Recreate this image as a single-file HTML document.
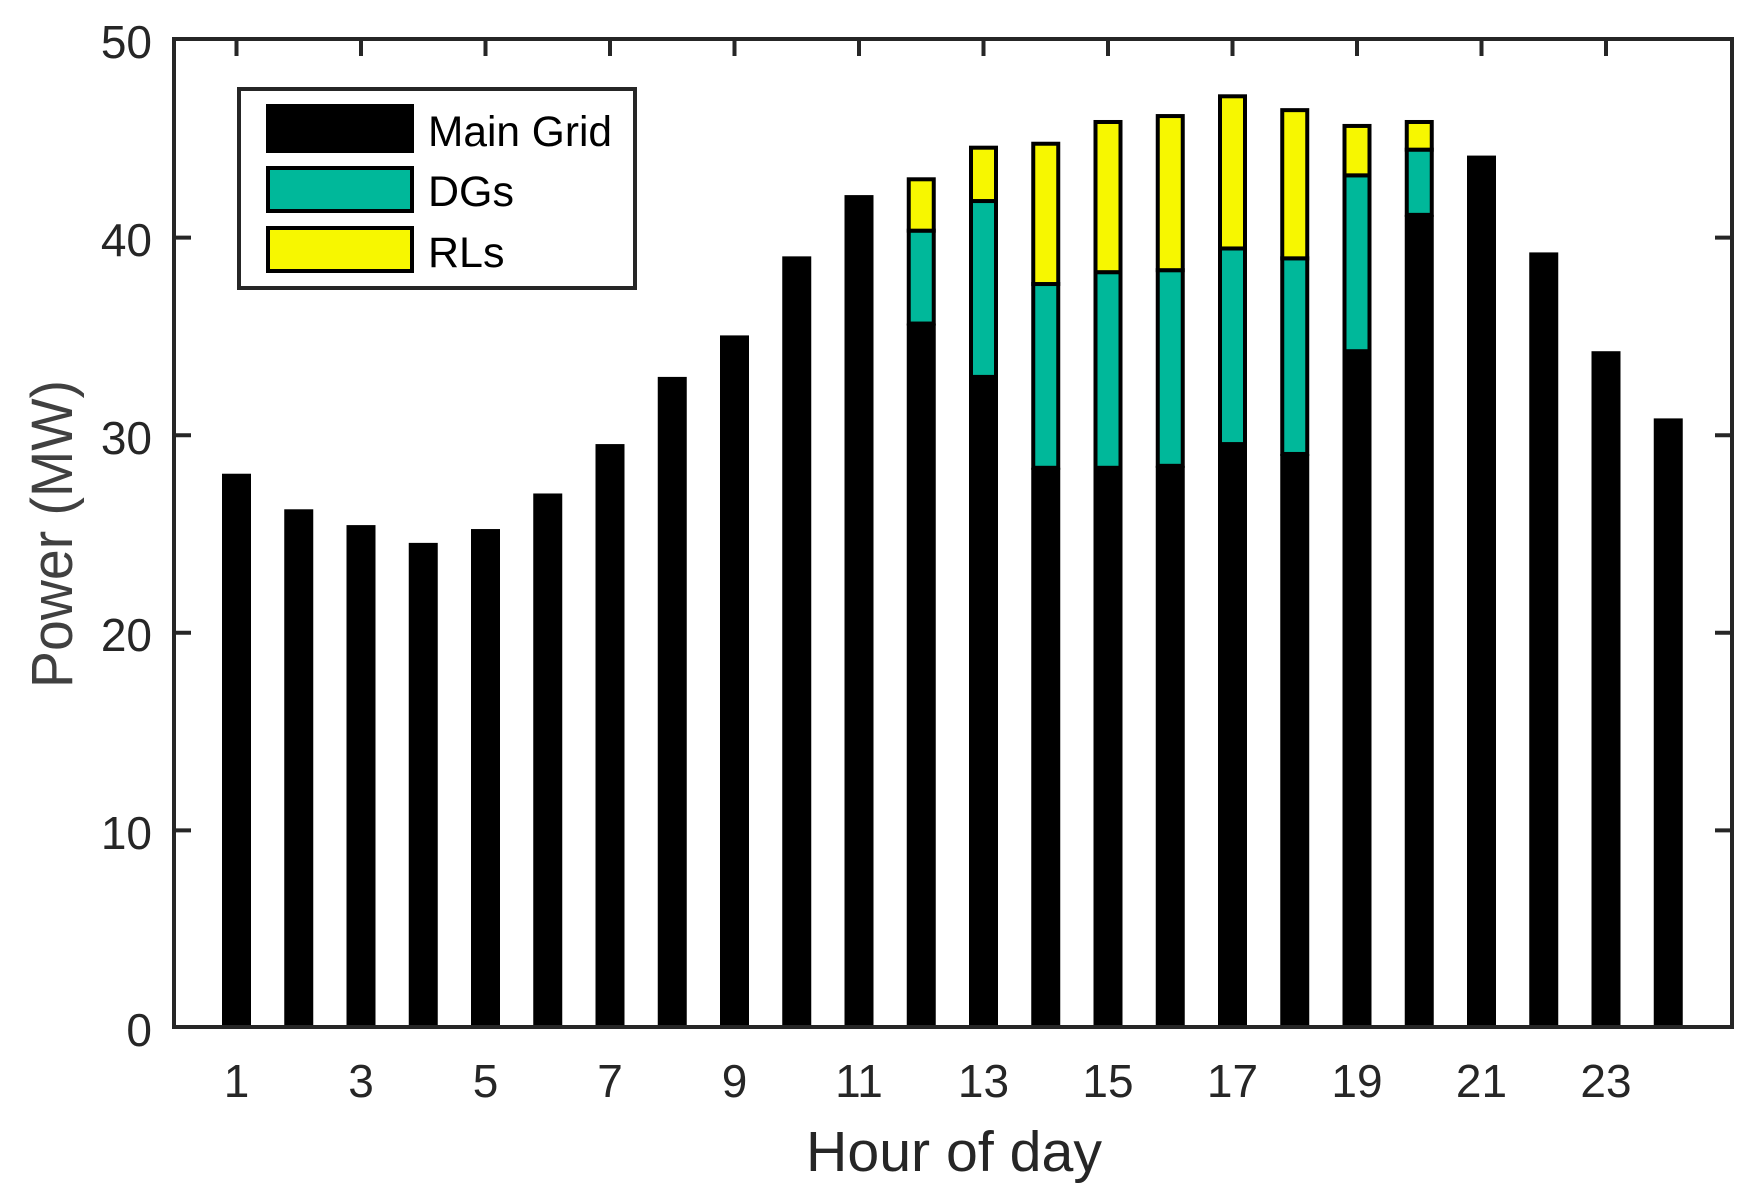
<!DOCTYPE html>
<html><head><meta charset="utf-8"><style>html,body{margin:0;padding:0;background:#fff}svg{display:block}</style></head>
<body>
<svg width="1762" height="1201" viewBox="0 0 1762 1201" xmlns="http://www.w3.org/2000/svg" font-family="Liberation Sans, sans-serif">
<rect width="1762" height="1201" fill="#fff"/>
<g fill="#000">
<rect x="222" y="473.72" width="29" height="553.28"/>
<rect x="284.25" y="509.29" width="29" height="517.71"/>
<rect x="346.5" y="525.10" width="29" height="501.90"/>
<rect x="408.75" y="542.88" width="29" height="484.12"/>
<rect x="471" y="529.05" width="29" height="497.95"/>
<rect x="533.25" y="493.48" width="29" height="533.52"/>
<rect x="595.5" y="444.08" width="29" height="582.92"/>
<rect x="657.75" y="376.90" width="29" height="650.10"/>
<rect x="720" y="335.4" width="29" height="691.6"/>
<rect x="782.25" y="256.36" width="29" height="770.64"/>
<rect x="844.5" y="195.10" width="29" height="831.90"/>
<rect x="906.75" y="323.54" width="29" height="703.46"/>
<rect x="969" y="376.90" width="29" height="650.10"/>
<rect x="1031.25" y="467.79" width="29" height="559.21"/>
<rect x="1093.5" y="467.79" width="29" height="559.21"/>
<rect x="1155.75" y="465.82" width="29" height="561.18"/>
<rect x="1218" y="444.08" width="29" height="582.92"/>
<rect x="1280.25" y="453.96" width="29" height="573.04"/>
<rect x="1342.5" y="351.21" width="29" height="675.79"/>
<rect x="1404.75" y="214.86" width="29" height="812.14"/>
<rect x="1467" y="155.58" width="29" height="871.42"/>
<rect x="1529.25" y="252.41" width="29" height="774.59"/>
<rect x="1591.5" y="351.21" width="29" height="675.79"/>
<rect x="1653.75" y="418.39" width="29" height="608.61"/>
</g>
<g fill="#00b89a" stroke="#000" stroke-width="4">
<rect x="908.75" y="230.67" width="25" height="92.87"/>
<rect x="971" y="201.03" width="25" height="175.87"/>
<rect x="1033.25" y="284.02" width="25" height="183.77"/>
<rect x="1095.5" y="272.17" width="25" height="195.62"/>
<rect x="1157.75" y="270.19" width="25" height="195.63"/>
<rect x="1220" y="248.46" width="25" height="195.62"/>
<rect x="1282.25" y="258.34" width="25" height="195.62"/>
<rect x="1344.5" y="175.34" width="25" height="175.87"/>
<rect x="1406.75" y="149.66" width="25" height="65.2"/>
</g>
<g fill="#f7f700" stroke="#000" stroke-width="4">
<rect x="908.75" y="179.30" width="25" height="51.37"/>
<rect x="971" y="147.68" width="25" height="53.35"/>
<rect x="1033.25" y="143.73" width="25" height="140.29"/>
<rect x="1095.5" y="121.99" width="25" height="150.18"/>
<rect x="1157.75" y="116.06" width="25" height="154.13"/>
<rect x="1220" y="96.30" width="25" height="152.16"/>
<rect x="1282.25" y="110.14" width="25" height="148.2"/>
<rect x="1344.5" y="125.94" width="25" height="49.4"/>
<rect x="1406.75" y="121.99" width="25" height="27.67"/>
</g>
<g stroke="#262626" stroke-width="4" fill="none">
<rect x="174" y="39" width="1558" height="988"/>
<path d="M236.5 41v15M361 41v15M485.5 41v15M610 41v15M734.5 41v15M859 41v15M983.5 41v15M1108 41v15M1232.5 41v15M1357 41v15M1481.5 41v15M1606 41v15"/>
<path d="M176 830.4h15M176 632.8h15M176 435.2h15M176 237.6h15M1730 830.4h-15M1730 632.8h-15M1730 435.2h-15M1730 237.6h-15"/>
</g>
<g fill="#262626" font-size="46" text-anchor="end">
<text x="152" y="1046">0</text><text x="152" y="849">10</text><text x="152" y="651">20</text><text x="152" y="454">30</text><text x="152" y="256">40</text><text x="152" y="58">50</text>
</g>
<g fill="#262626" font-size="46" text-anchor="middle">
<text x="236.5" y="1097">1</text><text x="361" y="1097">3</text><text x="485.5" y="1097">5</text><text x="610" y="1097">7</text><text x="734.5" y="1097">9</text><text x="859" y="1097">11</text><text x="983.5" y="1097">13</text><text x="1108" y="1097">15</text><text x="1232.5" y="1097">17</text><text x="1357" y="1097">19</text><text x="1481.5" y="1097">21</text><text x="1606" y="1097">23</text>
</g>
<text x="954" y="1171" font-size="57" fill="#262626" text-anchor="middle" textLength="296" lengthAdjust="spacingAndGlyphs">Hour of day</text>
<text transform="translate(72,534) rotate(-90)" font-size="58" fill="#404040" text-anchor="middle" textLength="308" lengthAdjust="spacingAndGlyphs">Power (MW)</text>
<rect x="239" y="89" width="396" height="199" fill="#fff" stroke="#262626" stroke-width="4"/>
<rect x="266" y="104" width="148" height="49" fill="#000"/>
<rect x="268" y="168" width="144" height="43" fill="#00b89a" stroke="#000" stroke-width="4"/>
<rect x="268" y="228" width="144" height="43" fill="#f7f700" stroke="#000" stroke-width="4"/>
<g font-size="43" fill="#000">
<text x="428" y="146" textLength="184" lengthAdjust="spacingAndGlyphs">Main Grid</text>
<text x="428" y="206">DGs</text>
<text x="428" y="267">RLs</text>
</g>
</svg>
</body></html>
